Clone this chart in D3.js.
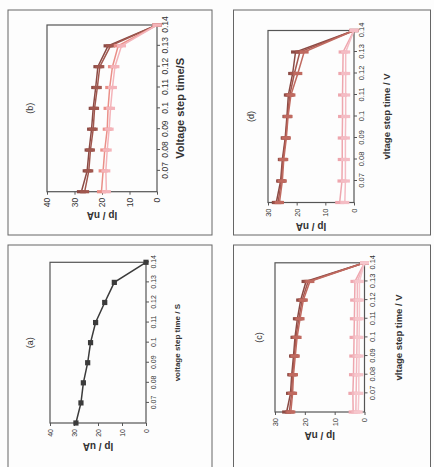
<!DOCTYPE html>
<html>
<head>
<meta charset="utf-8">
<script src="https://cdn.jsdelivr.net/npm/d3@7"></script>
<style>
    body { margin: 0; background: #fdfdfd; }
    svg { display: block; }
    text { fill: #333; }
</style>
</head>
<body>
<div class="fig"></div>
<script>
// data
var stepTime = [0.06, 0.07, 0.08, 0.09, 0.10, 0.11, 0.12, 0.13, 0.14];
var xTickValues = [0.07, 0.08, 0.09, 0.10, 0.11, 0.12, 0.13, 0.14];
var xTickLabels = ['0.07', '0.08', '0.09', '0.1', '0.11', '0.12', '0.13', '0.14'];
var yTicks40 = [0, 10, 20, 30, 40];
var yTicks30 = [0, 10, 20, 30];

var ipA = [29.2, 27.1, 26.1, 24.3, 23.1, 21.0, 17.2, 13.2, 0];

var ipB1 = [27.5, 25.4, 24.7, 23.8, 23.2, 22.3, 21.5, 17.8, 0];
var ipB2 = [26.3, 24.8, 24.2, 23.2, 22.7, 21.7, 20.8, 16.9, 0];
var ipB3 = [20.2, 19.6, 19.0, 18.1, 17.8, 17.2, 16.2, 14.1, 0];
var ipB4 = [18.4, 18.6, 18.1, 17.4, 16.9, 16.2, 15.3, 12.9, 0];

var ipC1 = [26.1, 24.8, 24.4, 23.8, 23.3, 22.5, 21.4, 19.6, 0];
var ipC2 = [25.2, 24.4, 24.1, 23.5, 23.0, 22.0, 20.9, 18.9, 0];
var ipC3 = [24.7, 24.1, 23.8, 23.2, 22.6, 21.6, 20.5, 18.3, 0];
var ipC4 = [3.8, 3.9, 3.7, 3.6, 3.5, 3.4, 3.3, 3.2, 0];
var ipC5 = [2.9, 2.8, 2.7, 2.6, 2.5, 2.4, 2.4, 2.4, 0];
var ipC6 = [2.1, 1.9, 1.9, 1.8, 1.8, 1.7, 1.7, 1.7, 0];

var ipD1 = [27.1, 25.6, 25.0, 24.0, 23.4, 22.9, 21.4, 20.4, 0];
var ipD2 = [26.5, 25.3, 24.8, 23.8, 23.2, 22.4, 20.8, 18.9, 0];
var ipD3 = [26.0, 25.0, 24.5, 23.6, 23.0, 22.0, 19.6, 17.4, 0];
var ipD4 = [5.0, 4.2, 4.1, 4.1, 4.0, 4.0, 3.9, 3.8, 0];
var ipD5 = [3.2, 3.0, 3.0, 3.0, 2.9, 2.9, 2.9, 2.9, 0];

var W = 434, H = 467;
var font = '"Liberation Sans Narrow", "Liberation Sans", Arial, sans-serif';

// the scanned page is turned a quarter turn, so the figure is laid out
// upright (467 wide, 434 high) and then rotated into the window
var panels = [
    {
        name: '(a)', frame: [-5, 8, 227, 204], x: [44, 204.7], y: [146, 50], yMax: 40, yTicks: yTicks40,
        xTitle: 'voltage step time / S', yTitle: 'Ip / uA', xTitleY: 180, titleSize: 8, tickSize: 7, labelY: 33, square: true,
        series: [{v: ipA, c: '#3b3b3b'}]
    },
    {
        name: '(b)', frame: [232, 8, 225, 204], x: [275.3, 442], y: [157, 47], yMax: 40, yTicks: yTicks40,
        xTitle: 'Voltage step time/S', yTitle: 'Ip / nA', xTitleY: 184, titleSize: 11, tickSize: 8.5, labelY: 33,
        series: [
            {v: ipB1, c: '#8a4a44'}, {v: ipB2, c: '#a0574e'},
            {v: ipB3, c: '#ea8f88'}, {v: ipB4, c: '#f4b4ba'}
        ]
    },
    {
        name: '(c)', frame: [-5, 233.5, 227, 197], x: [55, 204.2], y: [364.5, 275], yMax: 30, yTicks: yTicks30,
        xTitle: 'vltage step time / V', yTitle: 'Ip / nA', xTitleY: 402, titleSize: 9.5, tickSize: 7.5, labelY: 262,
        series: [
            {v: ipC1, c: '#8a4a44'}, {v: ipC2, c: '#a3564e'}, {v: ipC3, c: '#c06a60'},
            {v: ipC4, c: '#eea6ae'}, {v: ipC5, c: '#f2b6be'}, {v: ipC6, c: '#f6c6cc'}
        ]
    },
    {
        name: '(d)', frame: [232, 233.5, 225, 197], x: [264.5, 436.5], y: [354, 268], yMax: 30, yTicks: yTicks30,
        xTitle: 'vltage step time / V', yTitle: 'Ip / nA', xTitleY: 390, titleSize: 9.5, tickSize: 7.5, labelY: 254,
        series: [
            {v: ipD1, c: '#8a4a44'}, {v: ipD2, c: '#a3564e'}, {v: ipD3, c: '#c06a60'},
            {v: ipD4, c: '#eea6ae'}, {v: ipD5, c: '#f4bcc4'}
        ]
    }
];

var svg = d3.select('.fig').append('svg')
    .attr('width', W)
    .attr('height', H);

var page = svg.append('g')
    .attr('transform', 'translate(0,' + H + ') rotate(-90)');

panels.forEach(function(p) {
    var g = page.append('g');
    var x = d3.scaleLinear().domain([0.06, 0.14]).range(p.x);
    var y = d3.scaleLinear().domain([0, p.yMax]).range(p.y);

    // outer frame
    g.append('rect')
        .attr('x', p.frame[0]).attr('y', p.frame[1])
        .attr('width', p.frame[2]).attr('height', p.frame[3])
        .attr('fill', 'none').attr('stroke', '#666').attr('stroke-width', 1);

    // plot box
    g.append('rect')
        .attr('x', p.x[0]).attr('y', p.y[1])
        .attr('width', p.x[1] - p.x[0]).attr('height', p.y[0] - p.y[1])
        .attr('fill', 'none').attr('stroke', '#555').attr('stroke-width', 1.2);

    var xAxis = g.append('g')
        .attr('transform', 'translate(0,' + p.y[0] + ')')
        .call(d3.axisBottom(x).tickValues(xTickValues).tickSize(3).tickPadding(2)
            .tickFormat(function(d, i) { return xTickLabels[i]; }));

    var yAxis = g.append('g')
        .attr('transform', 'translate(' + p.x[0] + ',0)')
        .call(d3.axisLeft(y).tickValues(p.yTicks).tickSize(3).tickPadding(3));

    [xAxis, yAxis].forEach(function(a) {
        a.select('.domain').remove();
        a.selectAll('line').attr('stroke', '#555');
        a.selectAll('text').attr('font-family', font).attr('font-size', p.tickSize).attr('fill', '#333');
    });

    var line = d3.line()
        .x(function(d, i) { return x(stepTime[i]); })
        .y(function(d) { return y(d); });

    p.series.forEach(function(s) {
        g.append('path')
            .datum(s.v)
            .attr('d', line)
            .attr('fill', 'none')
            .attr('stroke', s.c)
            .attr('stroke-width', 1.5);

        var m = g.selectAll(null)
            .data(s.v)
            .enter().append('rect')
            .attr('fill', s.c);

        if (p.square) {
            m.attr('x', function(d, i) { return x(stepTime[i]) - 2.6; })
                .attr('y', function(d) { return y(d) - 2.6; })
                .attr('width', 5.2).attr('height', 5.2);
        } else {
            m.attr('x', function(d, i) { return x(stepTime[i]) - 1.6; })
                .attr('y', function(d) { return y(d) - 4.5; })
                .attr('width', 3.2).attr('height', 9);
        }
    });

    // texts
    var cx = (p.x[0] + p.x[1]) / 2;
    g.append('text')
        .attr('x', cx).attr('y', p.labelY)
        .attr('text-anchor', 'middle')
        .attr('font-family', font).attr('font-size', 9)
        .text(p.name);

    g.append('text')
        .attr('x', cx).attr('y', p.xTitleY)
        .attr('text-anchor', 'middle')
        .attr('font-family', font).attr('font-size', p.titleSize).attr('font-weight', 'bold')
        .text(p.xTitle);

    var ym = (p.y[0] + p.y[1]) / 2;
    g.append('text')
        .attr('transform', 'translate(' + (p.x[0] - 20) + ',' + ym + ') rotate(-90)')
        .attr('text-anchor', 'middle')
        .attr('font-family', '"Liberation Sans", Arial, sans-serif').attr('font-size', 10).attr('font-weight', 'bold')
        .text(p.yTitle);
});
</script>
</body>
</html>
